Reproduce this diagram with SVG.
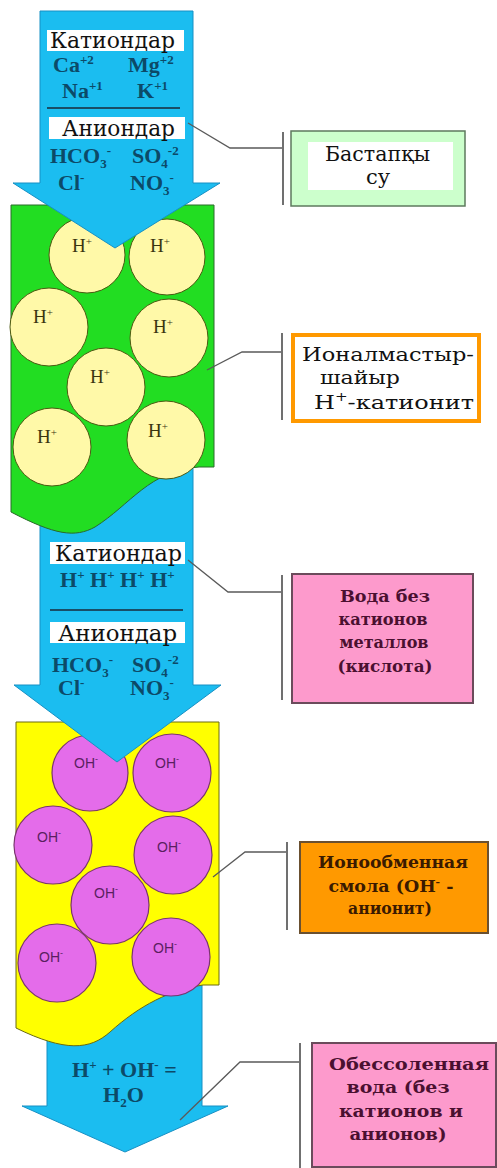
<svg xmlns="http://www.w3.org/2000/svg" width="497" height="1168" viewBox="0 0 497 1168">
<style>
.arrow{fill:#1bbdf0;stroke:#1790c4;stroke-width:1}
.lbl{fill:#ffffff}
.hdr{font-family:"DejaVu Serif","Liberation Serif",serif;font-size:22px;fill:#111}
.ion{font-family:"Liberation Serif",serif;font-size:22px;font-weight:bold;fill:#0c4a68}
.s{font-size:13px}
.hc{fill:#fff9a8;stroke:#4e5a14;stroke-width:1}
.oc{fill:#e46cea;stroke:#7a3470;stroke-width:1.2}
.ht{font-family:"Liberation Serif",serif;font-size:19px;fill:#3a3510}
.ot{font-family:"Liberation Sans",sans-serif;font-size:14px;fill:#5a1f60}
.con{fill:none;stroke:#5a5a5a;stroke-width:1.3}
.brk{stroke:#707070;stroke-width:2}
.bt{font-family:"DejaVu Serif","Liberation Serif",serif;font-size:21px;fill:#111}
.bt2{font-family:"DejaVu Serif","Liberation Serif",serif;font-size:19px;fill:#111}
.bb{font-family:"DejaVu Serif","Liberation Serif",serif;font-size:16px;font-weight:bold;text-anchor:middle}
</style>
<g id="bottom-arrow">
<path class="arrow" d="M47,980 H202 V1106 H228 L125,1152 L22,1106 H47 Z"/>
<text class="ion" x="72" y="1077">H<tspan class="s" dy="-8">+</tspan><tspan dy="8"> + OH</tspan><tspan class="s" dy="-8">-</tspan><tspan dy="8"> =</tspan></text>
<text class="ion" x="103" y="1102">H<tspan class="s" dy="5">2</tspan><tspan dy="-5">O</tspan></text>
</g>
<g id="anion-resin">
<path d="M16,722 H219 V985 H203 C170,990 140,1005 110,1032 C90,1050 65,1052 16,1028 Z" fill="#ffff00" stroke="#6a6a10" stroke-width="1"/>
<circle class="oc" cx="90" cy="773" r="38"/>
<circle class="oc" cx="172" cy="773" r="39"/>
<circle class="oc" cx="53" cy="845" r="39"/>
<circle class="oc" cx="173" cy="855" r="39"/>
<circle class="oc" cx="110" cy="905" r="39"/>
<circle class="oc" cx="57" cy="963" r="39"/>
<circle class="oc" cx="171" cy="957" r="39"/>
<text class="ot" x="74" y="768">OH<tspan font-size="9" dy="-6">-</tspan></text>
<text class="ot" x="155" y="768">OH<tspan font-size="9" dy="-6">-</tspan></text>
<text class="ot" x="37" y="842">OH<tspan font-size="9" dy="-6">-</tspan></text>
<text class="ot" x="157" y="852">OH<tspan font-size="9" dy="-6">-</tspan></text>
<text class="ot" x="94" y="898">OH<tspan font-size="9" dy="-6">-</tspan></text>
<text class="ot" x="39" y="962">OH<tspan font-size="9" dy="-6">-</tspan></text>
<text class="ot" x="153" y="953">OH<tspan font-size="9" dy="-6">-</tspan></text>
</g>
<g id="middle-arrow">
<path class="arrow" d="M40,455 H193 V685 H221 L117,762 L14,685 H40 Z"/>
<rect class="lbl" x="50" y="542" width="135" height="22"/>
<text class="hdr" x="55" y="561" textLength="127" lengthAdjust="spacingAndGlyphs">Катиондар</text>
<text class="ion" x="60" y="587">H<tspan class="s" dy="-8">+</tspan><tspan dy="8"> H</tspan><tspan class="s" dy="-8">+</tspan><tspan dy="8"> H</tspan><tspan class="s" dy="-8">+</tspan><tspan dy="8"> H</tspan><tspan class="s" dy="-8">+</tspan></text>
<line x1="50" y1="610" x2="183" y2="610" stroke="#1a2a3a" stroke-width="1.5"/>
<rect class="lbl" x="50" y="622" width="135" height="21"/>
<text class="hdr" x="58" y="641" textLength="119" lengthAdjust="spacingAndGlyphs">Аниондар</text>
<text class="ion" x="52" y="672">HCO<tspan class="s" dy="5">3</tspan><tspan class="s" dy="-13">-</tspan></text>
<text class="ion" x="132" y="672">SO<tspan class="s" dy="5">4</tspan><tspan class="s" dy="-13">-2</tspan></text>
<text class="ion" x="58" y="695">Cl<tspan class="s" dy="-8">-</tspan></text>
<text class="ion" x="130" y="695">NO<tspan class="s" dy="5">3</tspan><tspan class="s" dy="-13">-</tspan></text>
</g>
<g id="cation-resin">
<path d="M11,205 H214 V467 H199 C150,470 130,505 95,527 C75,538 55,535 11,512 Z" fill="#22dd22" stroke="#2a6a2a" stroke-width="1"/>
<circle class="hc" cx="87" cy="255" r="38"/>
<circle class="hc" cx="167" cy="257" r="38"/>
<circle class="hc" cx="49" cy="327" r="39"/>
<circle class="hc" cx="169" cy="338" r="39"/>
<circle class="hc" cx="106" cy="387" r="39"/>
<circle class="hc" cx="52" cy="447" r="39"/>
<circle class="hc" cx="166" cy="440" r="39"/>
<text class="ht" x="72" y="252">H<tspan font-size="11" dy="-7">+</tspan></text>
<text class="ht" x="150" y="252">H<tspan font-size="11" dy="-7">+</tspan></text>
<text class="ht" x="33" y="323">H<tspan font-size="11" dy="-7">+</tspan></text>
<text class="ht" x="153" y="333">H<tspan font-size="11" dy="-7">+</tspan></text>
<text class="ht" x="90" y="383">H<tspan font-size="11" dy="-7">+</tspan></text>
<text class="ht" x="37" y="443">H<tspan font-size="11" dy="-7">+</tspan></text>
<text class="ht" x="148" y="437">H<tspan font-size="11" dy="-7">+</tspan></text>
</g>
<g id="top-arrow">
<path class="arrow" d="M40,11 H193 V183 H220 L115,248 L13,183 H40 Z"/>
<rect class="lbl" x="47" y="30" width="137" height="21"/>
<text class="hdr" x="50" y="48" textLength="125" lengthAdjust="spacingAndGlyphs">Катиондар</text>
<text class="ion" x="53" y="72">Ca<tspan class="s" dy="-8">+2</tspan></text>
<text class="ion" x="128" y="72">Mg<tspan class="s" dy="-8">+2</tspan></text>
<text class="ion" x="62" y="98">Na<tspan class="s" dy="-8">+1</tspan></text>
<text class="ion" x="137" y="98">K<tspan class="s" dy="-8">+1</tspan></text>
<line x1="47" y1="108" x2="180" y2="108" stroke="#1a2a3a" stroke-width="1.5"/>
<rect class="lbl" x="49" y="117" width="136" height="22"/>
<text class="hdr" x="62" y="136" textLength="113" lengthAdjust="spacingAndGlyphs">Аниондар</text>
<text class="ion" x="50" y="163">HCO<tspan class="s" dy="5">3</tspan><tspan class="s" dy="-13">-</tspan></text>
<text class="ion" x="132" y="163">SO<tspan class="s" dy="5">4</tspan><tspan class="s" dy="-13">-2</tspan></text>
<text class="ion" x="58" y="190">Cl<tspan class="s" dy="-8">-</tspan></text>
<text class="ion" x="130" y="190">NO<tspan class="s" dy="5">3</tspan><tspan class="s" dy="-13">-</tspan></text>
</g>
<g id="box-source">
<rect x="291" y="131" width="174" height="75" fill="#ccffcc" stroke="#5e7a5e" stroke-width="1.5"/>
<rect x="308" y="142" width="145" height="48" fill="#ffffff"/>
<text class="bt" x="325" y="161" textLength="105" lengthAdjust="spacingAndGlyphs">Бастапқы</text>
<text class="bt" x="378" y="184" text-anchor="middle">су</text>
</g>
<g id="box-cationite">
<rect x="293" y="335" width="186" height="86" fill="#ffffff" stroke="#ff9900" stroke-width="4"/>
<text class="bt2" x="302" y="361" textLength="172" lengthAdjust="spacingAndGlyphs">Ионалмастыр-</text>
<text class="bt2" x="320" y="384" textLength="80" lengthAdjust="spacingAndGlyphs">шайыр</text>
<text class="bt2" x="314" y="409" textLength="160" lengthAdjust="spacingAndGlyphs">H<tspan font-size="12" dy="-8">+</tspan><tspan dy="8">-катионит</tspan></text>
</g>
<g id="box-acid">
<rect x="292" y="574" width="181" height="129" fill="#fd9acc" stroke="#6b4b5b" stroke-width="2"/>
<text class="bb" x="385" y="602" fill="#4a1030" textLength="90" lengthAdjust="spacingAndGlyphs">Вода без</text>
<text class="bb" x="383" y="625" fill="#4a1030" textLength="89" lengthAdjust="spacingAndGlyphs">катионов</text>
<text class="bb" x="384" y="648" fill="#4a1030" textLength="89" lengthAdjust="spacingAndGlyphs">металлов</text>
<text class="bb" x="385" y="672" fill="#4a1030" textLength="95" lengthAdjust="spacingAndGlyphs">(кислота)</text>
</g>
<g id="box-anionite">
<rect x="300" y="842" width="188" height="91" fill="#ff9900" stroke="#6a5030" stroke-width="2"/>
<text class="bb" x="393" y="868" fill="#3a1a00" textLength="150" lengthAdjust="spacingAndGlyphs">Ионообменная</text>
<text class="bb" x="391" y="892" fill="#3a1a00" textLength="125" lengthAdjust="spacingAndGlyphs">смола (ОН<tspan font-size="10" dy="-7">-</tspan><tspan dy="7"> -</tspan></text>
<text class="bb" x="390" y="914" fill="#3a1a00" textLength="84" lengthAdjust="spacingAndGlyphs">анионит)</text>
</g>
<g id="box-demineral">
<rect x="312" y="1043" width="184" height="124" fill="#fd9acc" stroke="#6b4b5b" stroke-width="2"/>
<text class="bb" x="409" y="1070" fill="#4a1030" textLength="160" lengthAdjust="spacingAndGlyphs">Обессоленная</text>
<text class="bb" x="398" y="1093" fill="#4a1030" textLength="103" lengthAdjust="spacingAndGlyphs">вода (без</text>
<text class="bb" x="401" y="1117" fill="#4a1030" textLength="124" lengthAdjust="spacingAndGlyphs">катионов и</text>
<text class="bb" x="398" y="1140" fill="#4a1030" textLength="97" lengthAdjust="spacingAndGlyphs">анионов)</text>
</g>
<g id="connectors">
<polyline class="con" points="188,123 230,148 283,148"/>
<line class="brk" x1="283" y1="132" x2="283" y2="205"/>
<polyline class="con" points="207,370 242,352 282,352"/>
<line class="brk" x1="282" y1="333" x2="282" y2="420"/>
<polyline class="con" points="188,560 228,592 282,592"/>
<line class="brk" x1="282" y1="575" x2="282" y2="700"/>
<polyline class="con" points="213,877 245,852 287,852"/>
<line class="brk" x1="287" y1="842" x2="287" y2="930"/>
<polyline class="con" points="180,1120 240,1062 300,1062"/>
<line class="brk" x1="300" y1="1043" x2="300" y2="1168"/>
</g>
</svg>
